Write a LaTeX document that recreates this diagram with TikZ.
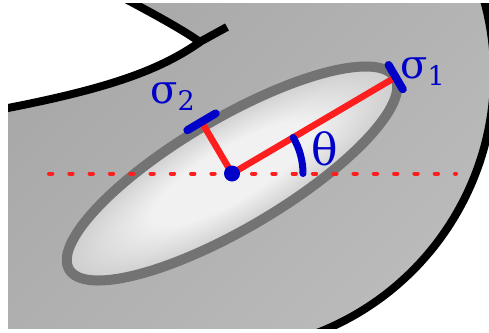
\documentclass[tikz,border=0pt]{standalone}
\usepackage{fontspec}
\setmainfont{DejaVu Serif}
\usetikzlibrary{calc}
\definecolor{bgdark}{RGB}{168,168,168}
\definecolor{bglight}{RGB}{188,188,188}
\definecolor{ellin}{RGB}{241,241,241}
\definecolor{ellout}{RGB}{205,205,205}
\definecolor{ellrim}{RGB}{115,115,115}
\definecolor{myred}{RGB}{255,30,30}
\definecolor{myblue}{RGB}{0,0,200}
\pgfdeclareradialshading{ellsh}{\pgfpoint{0bp}{0bp}}{color(0bp)=(ellin); color(12bp)=(ellin); color(25bp)=(ellout); color(50bp)=(ellout)}
\begin{document}
\begin{tikzpicture}[x=1pt,y=-1pt,
  blackline/.style={line width=8pt, black},
  redline/.style={line width=6.5pt, myred},
  bluetick/.style={line width=8pt, myblue, line cap=round},
  lbl/.style={inner sep=0pt, text=myblue, anchor=base west}]
\useasboundingbox (0,0) rectangle (489,332);
\coordinate (C) at (216,74);
\coordinate (O) at (232,173.5);
\coordinate (S1) at (395.7,77.1);
\coordinate (S1a) at (388.6,65.0);
\coordinate (S1b) at (402.8,89.2);
\coordinate (S2) at (201.5,121.8);
\coordinate (S2a) at (215.7,113.4);
\coordinate (S2b) at (187.3,130.2);
\coordinate (T0) at (303,173.5);
\coordinate (DL) at (49,173.5);
\coordinate (DR) at (456,173.5);
\coordinate (K0) at (8,108);
\coordinate (KT) at (200,42);
\coordinate (KE) at (227,27);
\coordinate (KU) at (120,-4);
\begin{scope}
  \clip (8,3) rectangle (489,328);
  \shade[top color=bgdark, bottom color=bglight, shading angle=45]
    (0,-20) -- ($(C)+(-17:278)$) arc[start angle=-17, end angle=70, radius=278] -- (0,345) -- cycle;
  \draw[blackline] ($(C)+(-17:278)$) arc[start angle=-17, end angle=70, radius=278];
  \fill[white] (K0) .. controls (110,88) and (160,70) .. (KT)
     .. controls (180,28) and (150,12) .. (KU) -- (0,-10) -- (0,108) -- cycle;
  \draw[blackline] (0,110) -- (K0) .. controls (110,88) and (160,70) .. (KT);
  \draw[blackline] (KT) .. controls (180,28) and (150,12) .. (KU);
  \draw[blackline] (196,44) -- (KE);
\end{scope}
\begin{scope}[transform canvas={shift={(232,173.5)}, rotate=30.5}]
  \shade[shading=ellsh] (0,0) ellipse [x radius=189pt, y radius=55pt];
  \draw[line width=10pt, ellrim] (0,0) ellipse [x radius=189pt, y radius=55pt];
\end{scope}
\draw[myred, line width=4pt, line cap=round, dash pattern=on 3.3pt off 17pt] (DL) -- (DR);
\draw[redline] (O) -- (S1);
\draw[redline] (O) -- (S2);
\draw[bluetick] (S1a) -- (S1b);
\draw[bluetick] (S2a) -- (S2b);
\draw[line width=7pt, myblue, line cap=round] (T0) arc[start angle=0, end angle=-30.5, radius=71];
\fill[myblue] (O) circle (8pt);
\node[lbl] (L1) at (400,78) {\fontsize{40}{40}\selectfont σ\raisebox{-7pt}{\fontsize{27}{27}\selectfont 1}};
\node[lbl] (L2) at (150,103) {\fontsize{40}{40}\selectfont σ\raisebox{-7pt}{\fontsize{27}{27}\selectfont 2}};
\node[lbl] (L3) at (311,165) {\fontsize{44}{44}\selectfont θ};
\end{tikzpicture}
\end{document}
